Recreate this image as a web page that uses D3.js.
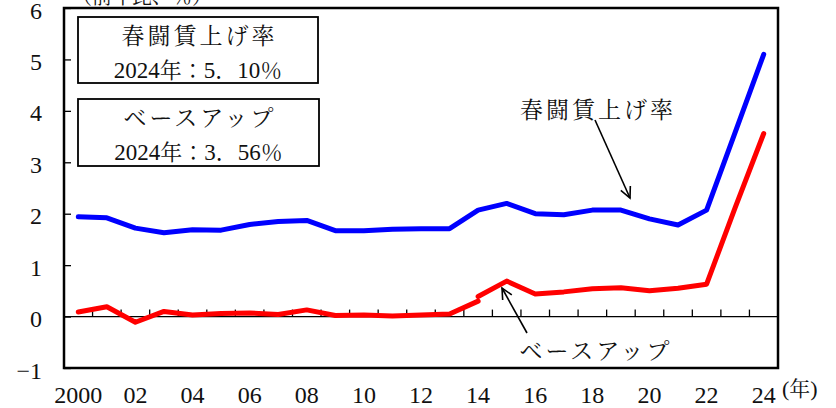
<!DOCTYPE html>
<html><head><meta charset="utf-8">
<script src="https://cdn.jsdelivr.net/npm/d3@7"></script>
<style>
html,body{margin:0;padding:0;background:#fff;}
svg{display:block;}
</style></head>
<body>
<svg id="c" width="836" height="408"></svg>
<script>
const years = [2000,2001,2002,2003,2004,2005,2006,2007,2008,2009,2010,2011,2012,2013,2014,2015,2016,2017,2018,2019,2020,2021,2022,2023,2024];
const shuntoRate = [1.94,1.92,1.72,1.63,1.69,1.68,1.79,1.85,1.87,1.67,1.67,1.70,1.71,1.71,2.07,2.20,2.00,1.98,2.07,2.07,1.90,1.78,2.07,3.58,5.10];
const baseUpOldYears = [2000,2001,2002,2003,2004,2005,2006,2007,2008,2009,2010,2011,2012,2013,2014];
const baseUpOld = [0.09,0.19,-0.11,0.10,0.03,0.06,0.07,0.04,0.13,0.02,0.03,0.01,0.03,0.05,0.30];
const baseUpNewYears = [2014,2015,2016,2017,2018,2019,2020,2021,2022,2023,2024];
const baseUpNew = [0.39,0.69,0.44,0.48,0.54,0.56,0.50,0.55,0.63,2.12,3.56];
const yTicks = [-1,0,1,2,3,4,5,6];
const xLabelYears = [2000,2002,2004,2006,2008,2010,2012,2014,2016,2018,2020,2022,2024];

const numFont = "Liberation Serif";
const cjkFont = "Noto Serif CJK JP";

const svg = d3.select("#c");
const L = 64, R = 778, T = 8, B = 368;
const x = d3.scaleBand().domain(years).range([L, R]).paddingInner(0).paddingOuter(0);
const y = d3.scaleLinear().domain([-1, 6]).range([B, T]);
const cx = d => x(d) + x.bandwidth() / 2;

// y axis ticks (inward) and labels
const yAxis = d3.axisLeft(y).tickValues(yTicks).tickSizeInner(-7).tickSizeOuter(0).tickPadding(22)
  .tickFormat(d => d < 0 ? "\u2212" + (-d) : String(d));
const ga = svg.append("g").attr("transform", `translate(${L},0)`).call(yAxis);
ga.attr("font-family", numFont).attr("font-size", 24);
ga.select(".domain").remove();
ga.selectAll(".tick line").attr("stroke", "#000").attr("stroke-width", 1.3);
ga.selectAll(".tick text").attr("font-family", numFont).attr("font-size", 24).attr("fill", "#111").attr("dy", "0.42em");

// zero line
svg.append("line").attr("x1", L).attr("x2", R).attr("y1", y(0)).attr("y2", y(0))
  .attr("stroke", "#000").attr("stroke-width", 1.2);
// category boundary ticks on zero line
svg.append("g").selectAll("line").data(years.slice(1)).join("line")
  .attr("x1", d => x(d)).attr("x2", d => x(d))
  .attr("y1", y(0)).attr("y2", y(0) - 7)
  .attr("stroke", "#000").attr("stroke-width", 1.3);

// x labels
svg.append("g").selectAll("text").data(xLabelYears).join("text")
  .attr("x", d => cx(d)).attr("y", 403)
  .attr("text-anchor", "middle")
  .attr("font-family", numFont).attr("font-size", 24).attr("fill", "#111")
  .text(d => d === 2000 ? "2000" : String(d % 100).padStart(2, "0"));

const yr = svg.append("text").attr("x", 782).attr("y", 396)
  .attr("font-family", numFont).attr("font-size", 22).attr("fill", "#111");
yr.append("tspan").text("(");
yr.append("tspan").attr("font-family", cjkFont).attr("font-size", 21).text("年");
yr.append("tspan").text(")");

svg.append("text").attr("x", 72).attr("y", 4)
  .attr("font-family", cjkFont).attr("font-size", 20).attr("fill", "#111")
  .text("（前年比、％）");

// lines
const line = d3.line().x(d => cx(d[0])).y(d => y(d[1]));
function drawLine(xs, vs, color) {
  svg.append("path").datum(xs.map((yr, i) => [yr, vs[i]]))
    .attr("d", line).attr("fill", "none").attr("stroke", color)
    .attr("stroke-width", 5).attr("stroke-linejoin", "round").attr("stroke-linecap", "round");
}
drawLine(years, shuntoRate, "#0000ff");
drawLine(baseUpOldYears, baseUpOld, "#ff0000");
drawLine(baseUpNewYears, baseUpNew, "#ff0000");

// frame
svg.append("rect").attr("x", L).attr("y", T).attr("width", R - L).attr("height", B - T)
  .attr("fill", "none").attr("stroke", "#000").attr("stroke-width", 2.5);

// boxes
function box(x0, y0, w, h, l1, num) {
  svg.append("rect").attr("x", x0).attr("y", y0).attr("width", w).attr("height", h)
    .attr("fill", "#fff").attr("stroke", "#000").attr("stroke-width", 1.8);
  svg.append("text").attr("x", x0 + w / 2 + 1.5).attr("y", y0 + 27)
    .attr("text-anchor", "middle").attr("font-family", cjkFont).attr("font-size", 23)
    .attr("letter-spacing", 3).attr("fill", "#111").text(l1);
  const t = svg.append("text").attr("x", x0 + w / 2).attr("y", y0 + 61)
    .attr("text-anchor", "middle").attr("font-family", numFont).attr("font-size", 23)
    .attr("fill", "#111");
  t.append("tspan").text("2024");
  t.append("tspan").attr("font-family", cjkFont).attr("font-size", 22).text("年：");
  t.append("tspan").text(num[0]);
  t.append("tspan").attr("font-family", cjkFont).attr("font-size", 22).text("．");
  t.append("tspan").text(num.slice(2));
  t.append("tspan").attr("font-family", cjkFont).attr("font-size", 22).text("％");
}
box(78, 17, 240, 66, "春闘賃上げ率", "5.10");
box(78, 99, 241, 67, "ベースアップ", "3.56");

// annotations
function arrow(x1, y1, x2, y2) {
  svg.append("line").attr("x1", x1).attr("y1", y1).attr("x2", x2).attr("y2", y2)
    .attr("stroke", "#000").attr("stroke-width", 1.6);
  const a = Math.atan2(y2 - y1, x2 - x1), len = 12, sp = 0.45;
  const p = [[x2 - len * Math.cos(a - sp), y2 - len * Math.sin(a - sp)], [x2, y2],
             [x2 - len * Math.cos(a + sp), y2 - len * Math.sin(a + sp)]];
  svg.append("path").attr("d", d3.line()(p)).attr("fill", "none")
    .attr("stroke", "#000").attr("stroke-width", 1.6);
}
svg.append("text").attr("x", 598).attr("y", 118).attr("text-anchor", "middle")
  .attr("font-family", cjkFont).attr("font-size", 23)
  .attr("letter-spacing", 3).attr("fill", "#111").text("春闘賃上げ率");
arrow(595, 120, 630, 198);
svg.append("text").attr("x", 596).attr("y", 359).attr("text-anchor", "middle")
  .attr("font-family", cjkFont).attr("font-size", 23)
  .attr("letter-spacing", 3).attr("fill", "#111").text("ベースアップ");
arrow(527, 333, 502, 288);
</script>
</body></html>
